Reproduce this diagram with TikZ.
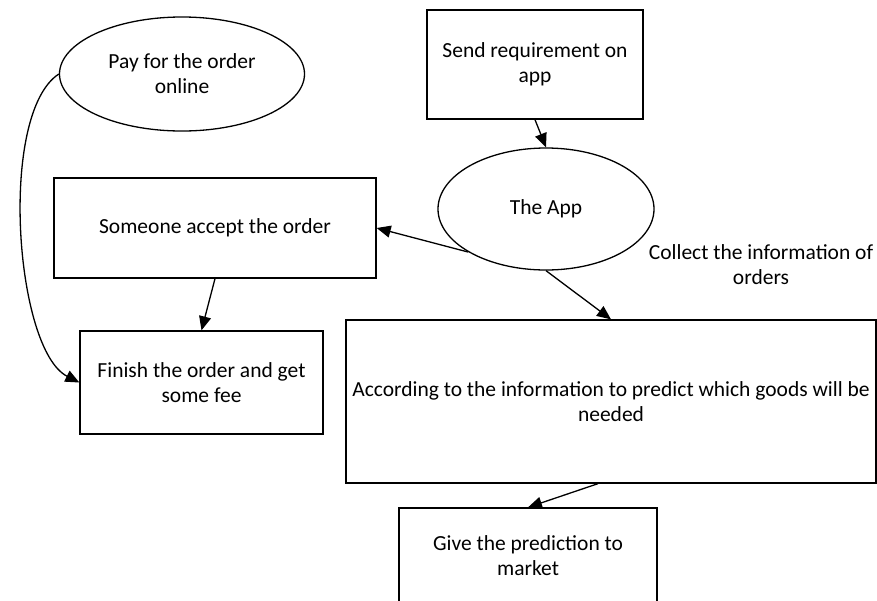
\documentclass[tikz,border=0pt]{standalone}
\usepackage{fontspec}
\setmainfont{Carlito}
\usepackage{tikz}
\usetikzlibrary{arrows.meta,positioning,shapes.geometric}

\begin{document}
\begin{tikzpicture}[
    x=1pt, y=1pt,
    font=\fontsize{21.5}{25}\selectfont,
    stepbox/.style={rectangle, draw, line width=1.3pt, align=center, inner sep=0pt},
    event/.style={ellipse, draw, line width=1.3pt, align=center, inner sep=0pt},
    arrow/.style={-{Triangle[length=14pt, width=12pt]}, line width=1.3pt}
]
\useasboundingbox (0,0) rectangle (877,-600);

% Ellipses
\node[event, minimum width=245, minimum height=114] (pay) at (182,-74) {Pay for the order\\online};
\node[event, minimum width=216, minimum height=122] (app) at (546,-209) {The App};

% Boxes
\node[stepbox, minimum width=216, minimum height=109] (send) at (535,-64.5) {Send requirement on\\app};
\node[stepbox, minimum width=322, minimum height=100] (accept) at (215,-228) {Someone accept the order};
\node[stepbox, minimum width=243, minimum height=103] (finish) at (201.5,-382.5) {Finish the order and get\\some fee};
\node[stepbox, minimum width=530, minimum height=163] (predict) at (611,-401.5) {According to the information to predict which goods will be\\needed};
\node[stepbox, minimum width=258, minimum height=96] (give) at (528,-556) {Give the prediction to\\market};

% Label
\node[align=center] (collect) at (761,-265) {Collect the information of\\orders};

% Flow
\draw[arrow] (send.south) -- (app.north);
\draw[arrow] (app.209) -- (accept.east);
\draw[arrow] (app.south) -- (predict.north);
\draw[arrow] (accept.south) -- (finish.north);
\draw[arrow] ([xshift=-13pt]predict.south) -- (give.north);
\draw[arrow] (pay.west) to[out=213, in=153, looseness=0.6] (finish.west);

\end{tikzpicture}
\end{document}
